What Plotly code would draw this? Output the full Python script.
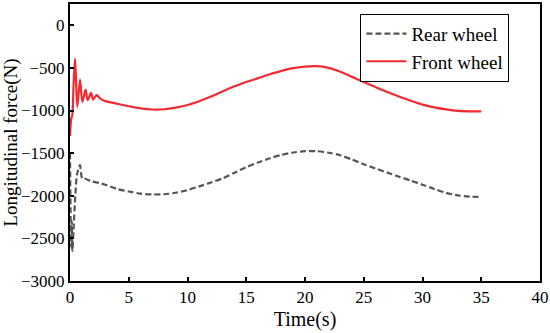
import plotly.graph_objects as go

# Time (s) and longitudinal force (N)
t_front = [0, 0.1, 0.2, 0.3, 0.43, 0.62, 0.85, 1.05, 1.33, 1.5, 1.79, 1.97, 2.27, 2.5, 2.7, 3, 3.5,
           4, 5, 6, 7, 8, 9, 10, 11, 12, 13, 14, 15, 16, 17, 18, 19, 20, 21, 22, 23, 24, 25,
           26, 27, 28, 29, 30, 31, 32, 33, 34, 35]
front_wheel = [-1300, -1100, -1050, -700, -390, -957, -637, -900, -754, -879, -793, -870, -820, -850, -872, -890, -905,
               -920, -950, -975, -988, -985, -965, -935, -890, -835, -775, -715, -665, -620, -575, -535, -503, -484, -480,
               -500, -545, -605, -665, -725, -783, -835, -885, -930, -962, -987, -1005, -1010, -1010]

t_rear = [0, 0.05, 0.1, 0.15, 0.2, 0.3, 0.45, 0.6, 0.85, 1.05, 1.3, 1.8, 2.5, 3, 4, 5, 6, 7, 8, 9, 10,
          11, 12, 13, 14, 15, 16, 17, 18, 19, 20, 21, 22, 23, 24, 25, 26, 27, 28, 29, 30, 31, 32, 33, 34, 35]
rear_wheel = [-1500, -2200, -2600, -2300, -2650, -2400, -2000, -1750, -1640, -1800, -1800, -1830, -1850, -1870,
              -1920, -1950, -1975, -1985, -1982, -1965, -1933, -1890, -1845, -1795, -1730, -1665, -1610, -1560,
              -1520, -1492, -1477, -1477, -1495, -1525, -1575, -1630, -1680, -1728, -1776, -1822, -1870, -1920,
              -1965, -1995, -2010, -2012]

x_ticks = [0, 5, 10, 15, 20, 25, 30, 35, 40]
y_ticks = [-3000, -2500, -2000, -1500, -1000, -500, 0]

font_family = "Liberation Serif, Times New Roman, serif"

fig = go.Figure()
fig.add_trace(go.Scatter(
    x=t_rear, y=rear_wheel, mode="lines", name="Rear wheel",
    line=dict(color="#555555", width=2.2, dash="6px,3px", shape="spline", smoothing=0.8),
))
fig.add_trace(go.Scatter(
    x=t_front, y=front_wheel, mode="lines", name="Front wheel",
    line=dict(color="#f42a30", width=2.2, shape="spline", smoothing=0.8),
))

axis_common = dict(
    showline=True, linecolor="black", linewidth=2, mirror=True,
    ticks="inside", ticklen=4, tickwidth=1.5, tickcolor="black",
    showgrid=False, zeroline=False, automargin=False,
    tickfont=dict(family=font_family, size=17, color="black"),
)

fig.update_xaxes(range=[0, 40], tickvals=x_ticks,
                 title=dict(text="Time(s)", font=dict(family=font_family, size=20, color="black"), standoff=6),
                 **axis_common)
fig.update_yaxes(range=[-3000, 250], tickvals=y_ticks,
                 title=dict(text="Longitudinal force(N)", font=dict(family=font_family, size=19, color="black"), standoff=2),
                 **axis_common)

fig.update_layout(
    width=550, height=333,
    margin=dict(l=70, r=10, t=4, b=52),
    plot_bgcolor="white", paper_bgcolor="white",
    font=dict(family=font_family, color="black"),
    showlegend=True,
    legend=dict(
        x=0.935, y=0.965, xanchor="right", yanchor="top",
        bordercolor="black", borderwidth=1, bgcolor="white",
        font=dict(family=font_family, size=19, color="black"),
        itemwidth=40, tracegroupgap=0,
    ),
)

fig.write_html("out.html", post_script="document.body.style.margin='0';",
               config={"displayModeBar": False})
